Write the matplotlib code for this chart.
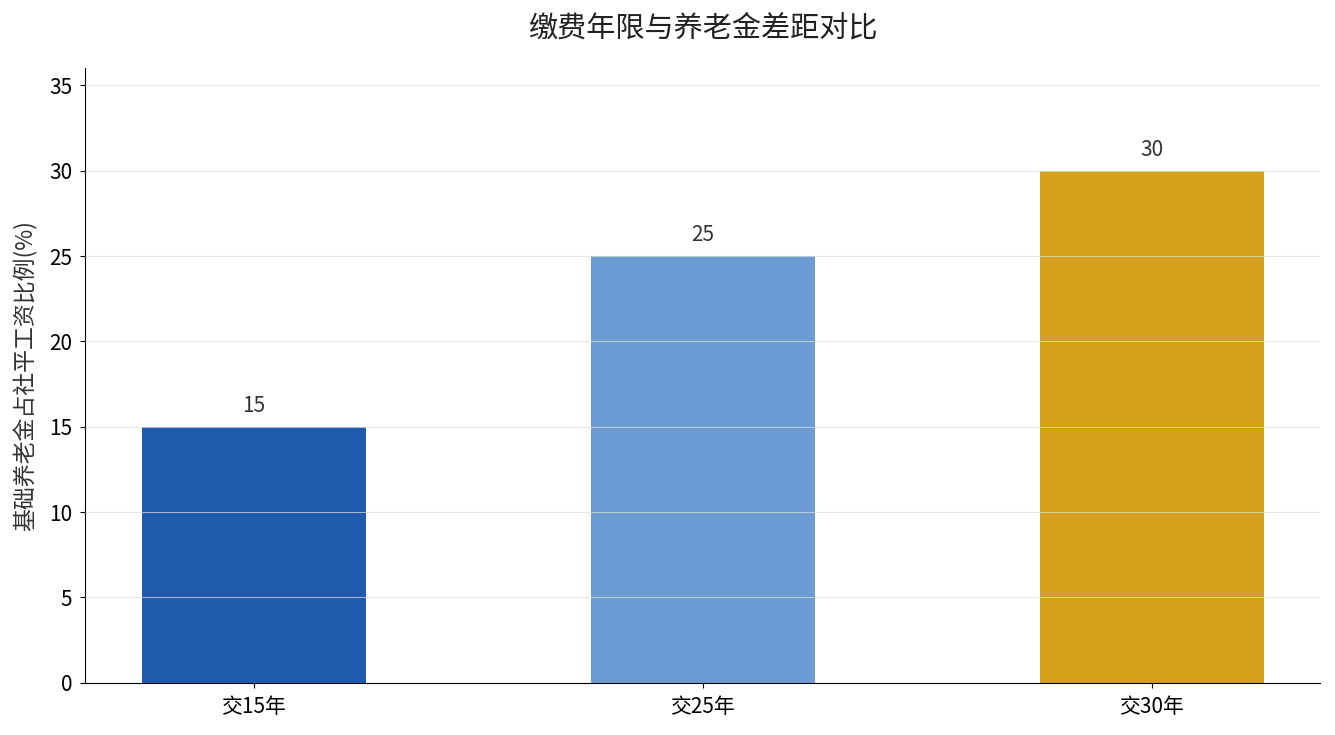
import matplotlib.pyplot as plt

plt.rcParams['font.family'] = ['Noto Sans CJK SC', 'DejaVu Sans']

categories = ['交15年', '交25年', '交30年']
values = [15, 25, 30]
colors = ['#1f5aad', '#6b9bd2', '#d4a01a']

fig, ax = plt.subplots(figsize=(13.35, 7.35), dpi=100)
fig.subplots_adjust(left=0.064, right=0.989, top=0.907, bottom=0.071)

x = range(len(categories))
bars = ax.bar(x, values, width=0.5, color=colors, zorder=1)
for b, v in zip(bars, values):
    ax.text(b.get_x() + b.get_width() / 2, v + 0.6, str(v),
            ha='center', va='bottom', fontsize=15, color='#333333')

ax.set_xticks(list(x))
ax.set_xticklabels(categories, fontsize=15)
ax.tick_params(axis='both', labelsize=15, pad=6)
ax.set_ylim(0, 36)
ax.set_ylabel('基础养老金占社平工资比例(%)', fontsize=16.5, color='#333333', labelpad=8)
ax.set_title('缴费年限与养老金差距对比', fontsize=21, color='#222222', pad=23)

ax.yaxis.grid(True, color='#dddddd', linewidth=0.8, alpha=0.7, zorder=3)
ax.set_axisbelow(False)
ax.spines['top'].set_visible(False)
ax.spines['right'].set_visible(False)

fig.savefig('out.png')
